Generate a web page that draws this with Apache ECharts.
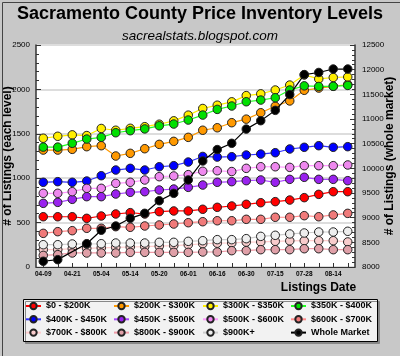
<!DOCTYPE html>
<html>
<head>
<meta charset="utf-8">
<script src="https://cdn.jsdelivr.net/npm/echarts@6/dist/echarts.min.js"></script>
<style>
html,body{margin:0;padding:0;background:#c8c8c8;}
#chart{width:400px;height:356px;}
</style>
</head>
<body>
<div id="chart"></div>
<script>
const categories = ['04-09','04-15','04-21','04-27','05-04','05-09','05-14','05-17','05-20','05-26','06-01','06-08','06-16','06-23','06-30','07-07','07-15','07-21','07-28','08-05','08-14','08-21'];

const s0_200 =   [566,566,566,548,574,597,612,597,623,631,631,650,672,687,706,724,736,754,781,818,848,848];
const s200_300 = [1317,1317,1325,1355,1366,1250,1280,1332,1381,1415,1460,1540,1568,1625,1665,1737,1810,1870,1990,2015,2035,2055];
const s300_350 = [1450,1472,1488,1480,1560,1540,1562,1580,1608,1646,1710,1785,1822,1860,1930,1950,1993,2049,2163,2118,2134,2140];
const s350_400 = [1350,1350,1393,1441,1460,1512,1535,1555,1590,1610,1655,1711,1775,1813,1861,1880,1906,1993,2040,2033,2035,2045];
const s400_450 = [954,961,954,968,1028,1092,1111,1092,1129,1141,1182,1245,1238,1242,1261,1272,1287,1329,1348,1366,1348,1355];
const s450_500 = [717,728,762,792,792,822,841,848,867,878,897,923,954,961,972,980,954,987,1010,987,987,972];
const s500_600 = [830,830,848,886,886,942,954,980,1017,1025,1040,1078,1084,1075,1111,1129,1129,1122,1141,1141,1141,1149];
const s600_700 = [379,398,409,436,436,454,447,462,473,484,499,510,521,521,537,537,560,560,578,566,586,604];
const s700_800 = [195,195,206,210,215,220,225,230,235,240,250,262,268,270,280,282,289,295,296,296,296,282];
const s800_900 = [131,139,158,158,158,158,165,165,165,165,165,169,169,184,184,195,195,195,206,206,195,195];
const s900plus = [251,251,259,259,262,270,270,270,278,278,289,296,308,308,319,345,357,372,383,394,394,402];
const wholeMarket = [8116,8149,null,8472,8745,8831,8987,9088,9344,9493,9764,10150,10380,10507,10795,10966,11175,11495,11900,11943,12013,12013];

const seriesNames = ['$0 - $200K','$200K - $300K','$300K - $350K','$350K - $400K','$400K - $450K','$450K - $500K','$500K - $600K','$600K - $700K','$700K - $800K','$800K - $900K','$900K+','Whole Market'];
const seriesData = [s0_200,s200_300,s300_350,s350_400,s400_450,s450_500,s500_600,s600_700,s700_800,s800_900,s900plus,wholeMarket];
const markerColors = ['#ff0000','#ff9900','#ffee00','#00e000','#0000ff','#9922ee','#ee88ee','#f07a7a','#f8cccc','#e0a0a8','#eeeeee','#000000'];
const lineColors   = ['#ff0000','#ff9900','#ffee00','#22ff22','#3333ff','#aa44ff','#ff99ff','#ff8a8a','#ffcccc','#ee9aa6','#cccccc','#000000'];

const FONT = 'Liberation Sans';

const series = seriesNames.map((n, i) => ({
  name: n,
  type: 'line',
  yAxisIndex: i === 11 ? 1 : 0,
  data: seriesData[i],
  connectNulls: true,
  symbol: 'circle',
  symbolSize: 8.5,
  z: 2 + i,
  lineStyle: {color: lineColors[i], width: 1.2},
  itemStyle: {color: markerColors[i], borderColor: '#222', borderWidth: 1},
  emphasis: {disabled: true},
  animation: false
}));

function legendCol(left, names) {
  return {
    orient: 'vertical', left: left, top: 300,
    itemWidth: 15, itemHeight: 8, itemGap: 1.3,
    padding: 0,
    data: names,
    selectedMode: false,
    textStyle: {fontFamily: FONT, fontSize: 9, fontWeight: 'bold', color: '#000', lineHeight: 12, padding: [0,0,0,0]}
  };
}

const plain = v => String(v);

const chart = echarts.init(document.getElementById('chart'), null, {renderer: 'canvas'});
chart.setOption({
  backgroundColor: '#c8c8c8',
  animation: false,
  title: [
    {text: 'Sacramento County Price Inventory Levels', left: 'center', top: 0,
     textStyle: {fontFamily: FONT, fontSize: 18, fontWeight: 'bold', color: '#000'}},
    {text: 'sacrealstats.blogspot.com', left: 'center', top: 24,
     textStyle: {fontFamily: FONT, fontSize: 13.5, fontStyle: 'italic', fontWeight: 'normal', color: '#000'}}
  ],
  graphic: [
    {type: 'rect', left: 0, top: 0, shape: {width: 399, height: 355}, style: {fill: 'none', stroke: '#444', lineWidth: 1}, z: 100},
    {type: 'rect', left: 23, top: 299, shape: {width: 354, height: 42},
     style: {fill: '#f2f2f2', stroke: '#000', lineWidth: 1, shadowBlur: 0, shadowOffsetX: 2, shadowOffsetY: 2, shadowColor: '#888'}, z: 0}
  ],
  legend: [
    legendCol(25, [seriesNames[0], seriesNames[4], seriesNames[8]]),
    legendCol(113, [seriesNames[1], seriesNames[5], seriesNames[9]]),
    legendCol(202, [seriesNames[2], seriesNames[6], seriesNames[10]]),
    legendCol(290, [seriesNames[3], seriesNames[7], seriesNames[11]])
  ],
  grid: {left: 36, right: 45, top: 45, bottom: 89, show: true, backgroundColor: '#ffffff', borderWidth: 0,
         containLabel: false, outerBoundsMode: 'none'},
  xAxis: {
    type: 'category',
    data: categories,
    boundaryGap: true,
    name: 'Listings Date',
    nameLocation: 'middle',
    nameGap: 15,
    nameMoveOverlap: false,
    nameTextStyle: {fontFamily: FONT, fontSize: 12, fontWeight: 'bold', color: '#000', padding: [0,0,0,246]},
    axisLine: {lineStyle: {color: '#333', width: 1}},
    axisTick: {show: true, inside: true, interval: 0, alignWithLabel: true, length: 4, lineStyle: {color: '#333'}},
    axisLabel: {interval: 1, fontFamily: FONT, fontSize: 6.5, fontWeight: 'bold', color: '#000', margin: 4},
    splitLine: {show: false}
  },
  yAxis: [
    {
      type: 'value', min: 0, max: 2500, interval: 500, position: 'left',
      name: '# of Listings (each level)', nameLocation: 'middle', nameGap: 22, nameRotate: 90,
      nameMoveOverlap: false,
      nameTextStyle: {fontFamily: FONT, fontSize: 12, fontWeight: 'bold', color: '#000', padding: [0,0,0,0]},
      axisLine: {show: true, lineStyle: {color: '#333', width: 1.5}},
      axisTick: {show: true, inside: true, length: 5, lineStyle: {color: '#333'}},
      minorTick: {show: true, splitNumber: 5, length: 3, lineStyle: {color: '#333'}},
      axisLabel: {fontFamily: FONT, fontSize: 8, color: '#000', margin: 6, formatter: plain},
      splitLine: {show: true, lineStyle: {color: '#dddddd', width: 2}}
    },
    {
      type: 'value', min: 8000, max: 12500, interval: 500, position: 'right',
      name: '# of Listings (whole market)', nameLocation: 'middle', nameGap: 29, nameRotate: 90,
      nameMoveOverlap: false,
      nameTextStyle: {fontFamily: FONT, fontSize: 12, fontWeight: 'bold', color: '#000'},
      axisLine: {show: true, lineStyle: {color: '#333', width: 1.5}},
      axisTick: {show: true, inside: true, length: 5, lineStyle: {color: '#333'}},
      minorTick: {show: true, splitNumber: 5, length: 3, lineStyle: {color: '#333'}},
      axisLabel: {fontFamily: FONT, fontSize: 8, color: '#000', margin: 7, formatter: plain},
      splitLine: {show: false}
    }
  ],
  series: series
});
</script>
</body>
</html>
